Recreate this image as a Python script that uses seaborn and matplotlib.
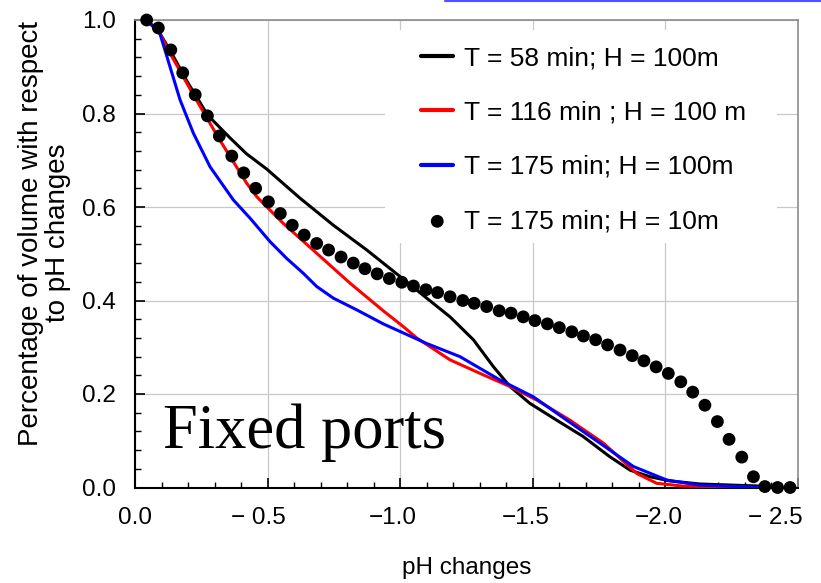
import numpy as np
import pandas as pd
import matplotlib
matplotlib.use("Agg")
import matplotlib.pyplot as plt
import seaborn as sns
from matplotlib.ticker import MultipleLocator
from matplotlib.transforms import ScaledTranslation
from matplotlib.patches import Rectangle
from matplotlib.lines import Line2D

# ---------------- data ----------------
labels = ["T = 58 min; H = 100m", "T = 116 min ; H = 100 m",
          "T = 175 min; H = 100m", "T = 175 min; H = 10m"]

t58_x = [0.044, 0.09, 0.14, 0.20, 0.232, 0.273, 0.358, 0.42, 0.497, 0.622, 0.748, 0.874,
         1.0, 1.10, 1.188, 1.276, 1.352, 1.414, 1.489, 1.59, 1.69, 1.79, 1.867,
         1.942, 2.017, 2.13, 2.36]
t58_y = [1.0, 0.975, 0.927, 0.865, 0.836, 0.797, 0.748, 0.714, 0.681, 0.619, 0.561, 0.508,
         0.451, 0.405, 0.365, 0.316, 0.258, 0.216, 0.180, 0.144, 0.109, 0.066, 0.037,
         0.023, 0.014, 0.0075, 0.003]

t116_x = [0.044, 0.09, 0.132, 0.22, 0.32, 0.421, 0.459, 0.559, 0.685, 0.811, 0.936,
          1.012, 1.062, 1.188, 1.313, 1.414, 1.515, 1.64, 1.766, 1.892, 1.967, 2.067,
          2.35]
t116_y = [1.0, 0.975, 0.929, 0.84, 0.743, 0.651, 0.622, 0.565, 0.501, 0.437, 0.378,
          0.344, 0.320, 0.273, 0.241, 0.216, 0.187, 0.144, 0.095, 0.030, 0.009, 0.003,
          0.0]

t175_x = [0.044, 0.094, 0.132, 0.17, 0.22, 0.283, 0.371, 0.434, 0.509, 0.572, 0.635,
          0.685, 0.748, 0.836, 0.936, 1.1, 1.225, 1.376, 1.502, 1.628, 1.753, 1.879,
          2.005, 2.13, 2.36]
t175_y = [1.0, 0.971, 0.90, 0.829, 0.758, 0.686, 0.615, 0.576, 0.526, 0.490, 0.458,
          0.430, 0.405, 0.380, 0.350, 0.308, 0.280, 0.230, 0.194, 0.144, 0.095, 0.045,
          0.016, 0.005, 0.0]

h10_x = [0.044, 0.088, 0.135, 0.18, 0.227, 0.273, 0.318, 0.365, 0.41, 0.455, 0.503,
         0.548, 0.593, 0.638, 0.685, 0.730, 0.777, 0.823, 0.867, 0.913, 0.959, 1.006,
         1.050, 1.097, 1.141, 1.188, 1.236, 1.279, 1.326, 1.373, 1.418, 1.464, 1.508,
         1.555, 1.600, 1.647, 1.691, 1.737, 1.782, 1.829, 1.875, 1.919, 1.965, 2.011,
         2.058, 2.103, 2.149, 2.196, 2.240, 2.288, 2.332, 2.375, 2.423, 2.470]
h10_y = [1.0, 0.983, 0.936, 0.887, 0.840, 0.795, 0.752, 0.709, 0.673, 0.640, 0.611,
         0.586, 0.561, 0.540, 0.522, 0.508, 0.493, 0.480, 0.468, 0.457, 0.447, 0.439,
         0.431, 0.423, 0.417, 0.408, 0.400, 0.394, 0.387, 0.378, 0.373, 0.365, 0.357,
         0.350, 0.342, 0.333, 0.324, 0.316, 0.305, 0.294, 0.282, 0.271, 0.258, 0.244,
         0.226, 0.204, 0.176, 0.141, 0.103, 0.065, 0.023, 0.002, 0.0, 0.0]

x_ticks = [0.0, 0.5, 1.0, 1.5, 2.0, 2.5]
x_ticklabels = ["0.0", "\u2212 0.5", "\u22121.0", "\u22121.5", "\u22122.0", "\u2212 2.5"]
y_ticks = [0.0, 0.2, 0.4, 0.6, 0.8, 1.0]
y_ticklabels = ["0.0", "0.2", "0.4", "0.6", "0.8", "1.0"]

# ---------------- style ----------------
sns.set_style("ticks")
plt.rcParams["font.family"] = ["Liberation Sans", "DejaVu Sans"]
plt.rcParams["text.color"] = "black"
plt.rcParams["axes.labelcolor"] = "black"
plt.rcParams["xtick.color"] = "black"
plt.rcParams["ytick.color"] = "black"

fig = plt.figure(figsize=(8.21, 5.83), dpi=100)
ax = fig.add_axes([135 / 821, 1 - 487.5 / 583, 663 / 821, 467.5 / 583])

lw = 2.2
sns.lineplot(x=t58_x, y=t58_y, ax=ax, color="black", lw=lw, label=labels[0], zorder=3)
sns.lineplot(x=t116_x, y=t116_y, ax=ax, color="#ff0000", lw=lw, label=labels[1], zorder=3)
sns.lineplot(x=t175_x, y=t175_y, ax=ax, color="#0000ff", lw=lw, label=labels[2], zorder=3)
sns.scatterplot(x=h10_x, y=h10_y, ax=ax, color="black", s=85, edgecolor="none",
                label=labels[3], clip_on=False, zorder=4)

ax.set_xlim(0, 2.5)
ax.set_ylim(0, 1.0)
ax.set_yticks(y_ticks)
ax.set_yticklabels(y_ticklabels)
ax.xaxis.set_minor_locator(MultipleLocator(0.1))
ax.yaxis.set_minor_locator(MultipleLocator(0.04))
ax.tick_params(which="both", direction="in", top=False, right=False, color="black",
               labelcolor="black")
ax.tick_params(which="major", length=7, width=1.2)
ax.tick_params(which="minor", length=4, width=1.0)
ax.tick_params(axis="x", pad=14, labelsize=17.5)
ax.tick_params(axis="y", pad=14, labelsize=17.5)
ax.set_xticks(x_ticks)
ax.set_xticklabels(x_ticklabels)

# keep the digits of each x tick label centred on its tick, sign hanging left
right_offsets_px = [None, 18, 17, 17, 17, 5]
for lbl, dx in zip(ax.get_xticklabels(), right_offsets_px):
    if dx is None:
        continue
    lbl.set_horizontalalignment("right")
    lbl.set_transform(lbl.get_transform() + ScaledTranslation(dx / 100, 0, fig.dpi_scale_trans))

ax.grid(True, which="major", color="#c8c8c8", lw=0.9)
ax.set_axisbelow(True)

for s in ["left", "bottom"]:
    ax.spines[s].set_color("black")
    ax.spines[s].set_linewidth(1.5)
for s in ["top", "right"]:
    ax.spines[s].set_color("#8c8c8c")
    ax.spines[s].set_linewidth(1.2)

ax.set_xlabel("pH changes", fontsize=17.5, color="black")
ax.xaxis.label.set_va("center")
ax.xaxis.set_label_coords(0.5, -0.172)
ax.set_ylabel("Percentage of volume with respect\nto pH changes", fontsize=20,
              linespacing=1.05, color="black")
ax.yaxis.label.set_va("center")
ax.yaxis.set_label_coords(-0.136, 0.544)

# white area behind the legend
ax.add_patch(Rectangle((0.377, 0.523), 0.591, 0.456, transform=ax.transAxes,
                       facecolor="white", edgecolor="none", zorder=0.8))

leg = ax.legend(loc="upper left", bbox_to_anchor=(0.432, 0.944), borderaxespad=0,
                borderpad=0, frameon=False, fontsize=19, handlelength=1.2,
                handletextpad=0.4, labelspacing=1.15, scatterpoints=1)
for h in leg.legend_handles[:3]:
    h.set_linewidth(3.0)
for t in leg.get_texts():
    t.set_color("black")

ax.text(0.106, 0.085, "Fixed ports", family=["Liberation Serif", "DejaVu Serif"],
        fontsize=45, ha="left", va="baseline", color="black", transform=ax.transData)

fig.add_artist(Line2D([445 / 821, 1.0], [1 - 1 / 583, 1 - 1 / 583], color="#5050ff",
                      lw=1.5, transform=fig.transFigure))

fig.savefig("out.png", dpi=100)
